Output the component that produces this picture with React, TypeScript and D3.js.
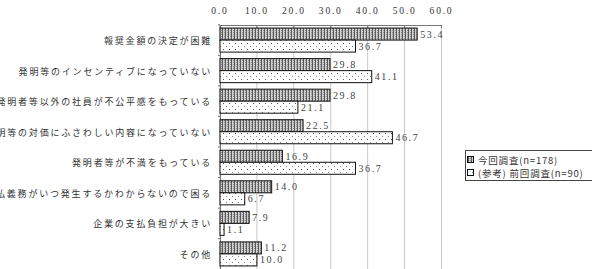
import React from "react";
import * as d3 from "d3";

const categories = [
  "報奨金額の決定が困難",
  "発明等のインセンティブになっていない",
  "発明者等以外の社員が不公平感をもっている",
  "発明等の対価にふさわしい内容になっていない",
  "発明者等が不満をもっている",
  "支払義務がいつ発生するかわからないので困る",
  "企業の支払負担が大きい",
  "その他",
];
const current = [53.4, 29.8, 29.8, 22.5, 16.9, 14.0, 7.9, 11.2];
const previous = [36.7, 41.1, 21.1, 46.7, 36.7, 6.7, 1.1, 10.0];
const seriesNames = ["今回調査(n=178)", "(参考)  前回調査(n=90)"];
const ticks = [0, 10, 20, 30, 40, 50, 60];

const W = 592;
const H = 269;

export default function App() {
  const x = d3.scaleLinear().domain([0, 60]).range([220, 441.5]);
  const y = d3
    .scaleBand<string>()
    .domain(categories)
    .range([25, 269])
    .paddingInner(0.213)
    .paddingOuter(0.1);
  const sub = d3.scaleBand<number>().domain([0, 1]).range([0, y.bandwidth()]);
  const series = [current, previous];
  const fills = ["url(#patA)", "url(#patB)"];
  const jp = "'Noto Sans CJK JP', sans-serif";
  const num = "'Liberation Serif', 'DejaVu Serif', serif";
  const step = y.step();

  return (
    <svg
      width={W}
      height={H}
      style={{ position: "absolute", left: 0, top: 0, background: "#fff" }}
    >
      <defs>
        <pattern id="patA" width="3" height="2" patternUnits="userSpaceOnUse">
          <rect width="3" height="2" fill="#d0d0d0" />
          <rect x="0" y="0" width="1" height="2" fill="#5a5a5a" />
          <rect x="2" y="0" width="1" height="1" fill="#8a8a8a" />
        </pattern>
        <pattern id="patB" width="6" height="6" patternUnits="userSpaceOnUse">
          <rect width="6" height="6" fill="#fff" />
          <rect x="1" y="1" width="1" height="1" fill="#555" />
          <rect x="4" y="4" width="1" height="1" fill="#888" />
        </pattern>
      </defs>

      {/* gridlines */}
      {ticks.map((t) => (
        <line
          key={"g" + t}
          x1={x(t)}
          x2={x(t)}
          y1={25}
          y2={H}
          stroke="#c8c8c8"
          strokeWidth={1}
        />
      ))}
      {/* top axis */}
      <line x1={x(0)} x2={x(60)} y1={25.5} y2={25.5} stroke="#777" />
      {ticks.map((t) => (
        <line
          key={"t" + t}
          x1={x(t)}
          x2={x(t)}
          y1={25}
          y2={28}
          stroke="#777"
        />
      ))}
      {ticks.map((t) => (
        <text
          key={"l" + t}
          x={x(t)}
          y={14}
          textAnchor="middle"
          fontFamily={num}
          fontSize={9.5}
          letterSpacing={1.8}
          fill="#333"
        >
          {t.toFixed(1)}
        </text>
      ))}
      {/* left axis */}
      <line x1={x(0) + 0.5} x2={x(0) + 0.5} y1={25} y2={H} stroke="#777" />
      {categories.map((c, i) => (
        <line
          key={"lt" + i}
          x1={x(0) - 2}
          x2={x(0)}
          y1={(y(c) as number) - (step - y.bandwidth()) / 2}
          y2={(y(c) as number) - (step - y.bandwidth()) / 2}
          stroke="#777"
        />
      ))}

      {categories.map((c, i) => (
        <g key={c}>
          {series.map((s, j) => {
            const by = (y(c) as number) + (sub(j) as number);
            return (
              <g key={j}>
                <rect
                  x={x(0)}
                  y={by}
                  width={x(s[i]) - x(0)}
                  height={sub.bandwidth()}
                  fill={fills[j]}
                  stroke="#111"
                  strokeWidth={1}
                />
                <text
                  x={x(s[i]) + 3}
                  y={by + sub.bandwidth() / 2 + 3.5}
                  fontFamily={num}
                  fontSize={10}
                  letterSpacing={1.6}
                  fill="#444"
                >
                  {s[i].toFixed(1)}
                </text>
              </g>
            );
          })}
          <text
            x={212}
            y={(y(c) as number) + y.bandwidth() / 2 + 4}
            textAnchor="end"
            fontFamily={jp}
            fontSize={9}
            letterSpacing={1.8}
            fill="#333"
          >
            {c}
          </text>
        </g>
      ))}

      {/* legend */}
      <rect
        x={465.5}
        y={150.5}
        width={140}
        height={30}
        fill="#fff"
        stroke="#444"
      />
      {seriesNames.map((n, j) => (
        <g key={n}>
          <rect
            x={467.5}
            y={156.5 + j * 13}
            width={6}
            height={6}
            fill={fills[j]}
            stroke="#111"
          />
          <text
            x={478}
            y={163.5 + j * 13}
            fontFamily={jp}
            fontSize={9.5}
            letterSpacing={0.8}
            fill="#333"
          >
            {n}
          </text>
        </g>
      ))}
    </svg>
  );
}
